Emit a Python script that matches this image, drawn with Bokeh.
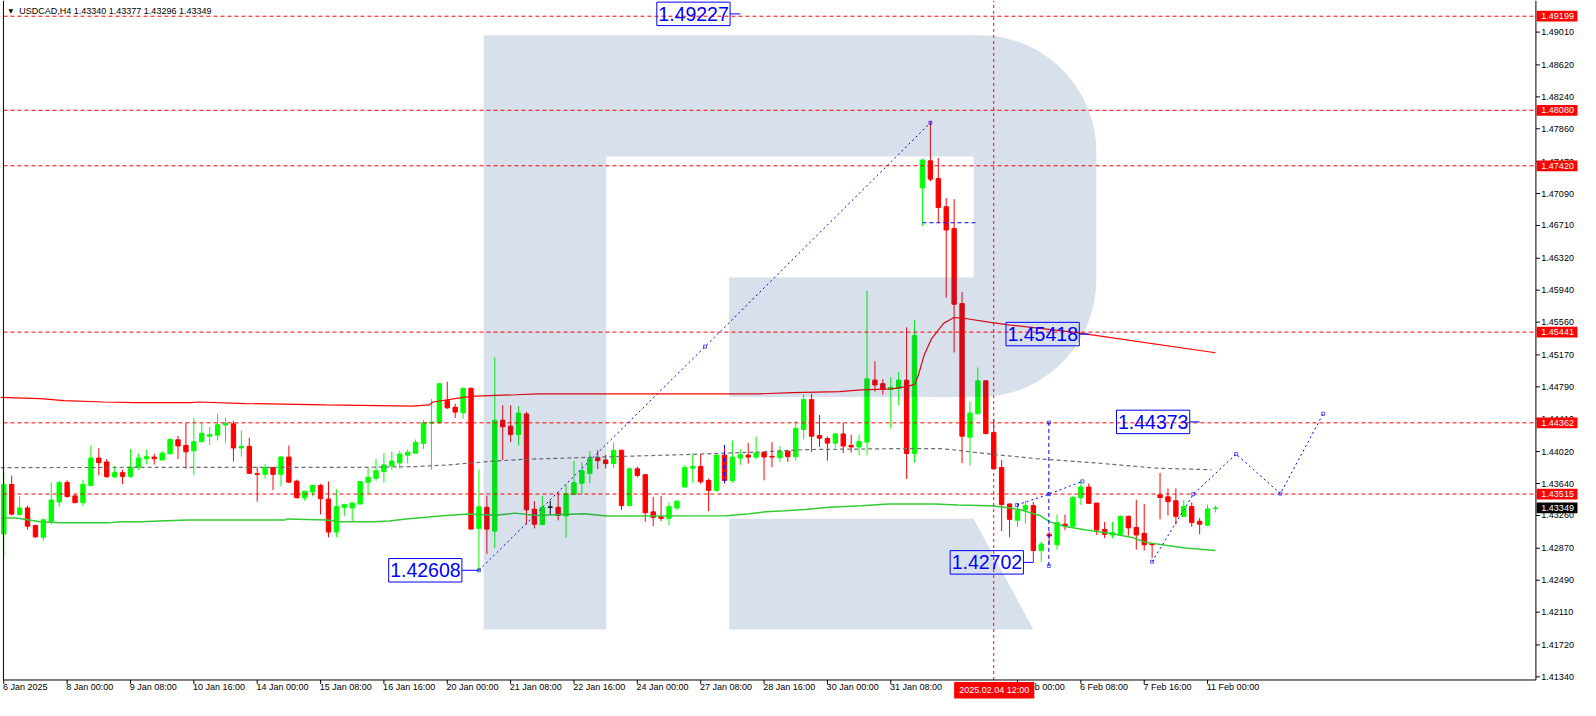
import numpy as np
from bokeh.plotting import figure
from bokeh.models import ColumnDataSource, Range1d
from bokeh.core.properties import value
from bokeh.embed import file_html
from bokeh.resources import INLINE

# ---------------- data ----------------
symbol_title = "USDCAD,H4  1.43340 1.43377 1.43296 1.43349"

opens = [1.43040, 1.43629, 1.43269, 1.43350, 1.43141, 1.43001, 1.43187, 1.43420, 1.43652, 1.43493,
         1.43412, 1.43618, 1.43943, 1.43897, 1.43722, 1.43769, 1.43726, 1.43835, 1.43935, 1.43955,
         1.43920, 1.43994, 1.44160, 1.44094, 1.44028, 1.44137, 1.44203, 1.44215, 1.44335, 1.44350,
         1.44063, 1.44083, 1.43757, 1.43749, 1.43831, 1.43749, 1.43955, 1.43668, 1.43470, 1.43540,
         1.43618, 1.43455, 1.43063, 1.43358, 1.43350, 1.43397, 1.43656, 1.43703, 1.43784, 1.43850,
         1.43885, 1.43978, 1.44001, 1.44118, 1.44358, 1.44362, 1.44626, 1.44548, 1.44482, 1.44773,
         1.43106, 1.43358, 1.43074, 1.44393, 1.44323, 1.44222, 1.44467, 1.43335, 1.43152, 1.43358,
         1.43358, 1.43254, 1.43509, 1.43644, 1.43761, 1.43947, 1.43920, 1.43877, 1.44036, 1.43377,
         1.43815, 1.43745, 1.43303, 1.43245, 1.43226, 1.43350, 1.43598, 1.43823, 1.43842, 1.43676,
         1.43559, 1.43978, 1.43676, 1.43943, 1.43978, 1.43955, 1.44013, 1.43963, 1.43947, 1.44025,
         1.43959, 1.44284, 1.44638, 1.44211, 1.44176, 1.44121, 1.44230, 1.44094, 1.44075, 1.44133,
         1.44870, 1.44827, 1.44761, 1.44772, 1.44870, 1.43998, 1.47157, 1.47479, 1.47269, 1.46932,
         1.46673, 1.45781, 1.44191, 1.44470, 1.44862, 1.44246, 1.43831, 1.43397, 1.43203, 1.43327,
         1.43377, 1.42842, 1.43036, 1.42912, 1.43156, 1.43133, 1.43474, 1.43598, 1.43408, 1.43094,
         1.43028, 1.43036, 1.43249, 1.43117, 1.43048, 1.42924, 1.43505, 1.43482, 1.43435, 1.43249,
         1.43366, 1.43191, 1.43145, 1.43340]
highs = [1.43776, 1.43734, 1.43489, 1.43377, 1.43150, 1.43222, 1.43652, 1.43668, 1.43680, 1.43517,
         1.43687, 1.44094, 1.44060, 1.43932, 1.43850, 1.43804, 1.44048, 1.43997, 1.44044, 1.43994,
         1.44025, 1.44176, 1.44207, 1.44358, 1.44420, 1.44358, 1.44312, 1.44470, 1.44424, 1.44385,
         1.44269, 1.44184, 1.43838, 1.43873, 1.43838, 1.43966, 1.44094, 1.43687, 1.43555, 1.43622,
         1.43633, 1.43664, 1.43571, 1.43400, 1.43416, 1.43668, 1.43831, 1.43932, 1.44001, 1.44021,
         1.44028, 1.44048, 1.44164, 1.44397, 1.44645, 1.44830, 1.44850, 1.44587, 1.44784, 1.44780,
         1.43804, 1.43493, 1.45141, 1.44571, 1.44571, 1.44560, 1.44493, 1.43431, 1.43493, 1.43435,
         1.43533, 1.43629, 1.43908, 1.43893, 1.44025, 1.44036, 1.43982, 1.44126, 1.44040, 1.43835,
         1.43842, 1.43750, 1.43481, 1.43493, 1.43416, 1.43435, 1.43861, 1.43998, 1.43990, 1.43699,
         1.43980, 1.44094, 1.44153, 1.44048, 1.44121, 1.44199, 1.44015, 1.44133, 1.44083, 1.44030,
         1.44385, 1.44703, 1.44708, 1.44455, 1.44199, 1.44242, 1.44362, 1.44222, 1.44222, 1.45932,
         1.45095, 1.44882, 1.44908, 1.44967, 1.45498, 1.45583, 1.47505, 1.47952, 1.47514, 1.47037,
         1.47022, 1.45917, 1.44618, 1.45021, 1.44866, 1.44405, 1.43920, 1.43400, 1.43404, 1.43435,
         1.43424, 1.42951, 1.43067, 1.43272, 1.43272, 1.43493, 1.43676, 1.43641, 1.43410, 1.43183,
         1.43183, 1.43261, 1.43261, 1.43447, 1.43397, 1.42930, 1.43765, 1.43583, 1.43583, 1.43443,
         1.43416, 1.43230, 1.43389, 1.43377]
lows = [1.42765, 1.43261, 1.43261, 1.43094, 1.42995, 1.42958, 1.43156, 1.43366, 1.43470, 1.43405,
        1.43373, 1.43606, 1.43738, 1.43707, 1.43703, 1.43633, 1.43707, 1.43800, 1.43866, 1.43866,
        1.43912, 1.43990, 1.43932, 1.43815, 1.43738, 1.44133, 1.44098, 1.44153, 1.44129, 1.43901,
        1.43959, 1.43755, 1.43424, 1.43695, 1.43563, 1.43606, 1.43648, 1.43465, 1.43435, 1.43486,
        1.43272, 1.43001, 1.43001, 1.43257, 1.43195, 1.43389, 1.43513, 1.43672, 1.43652, 1.43804,
        1.43819, 1.43877, 1.43998, 1.44052, 1.43804, 1.44355, 1.44529, 1.44420, 1.44412, 1.43095,
        1.42608, 1.42803, 1.42873, 1.43920, 1.44133, 1.44094, 1.43152, 1.43106, 1.43144, 1.43272,
        1.43202, 1.42998, 1.43505, 1.43509, 1.43644, 1.43812, 1.43819, 1.43819, 1.43327, 1.43370,
        1.43714, 1.43184, 1.43133, 1.43195, 1.43144, 1.43327, 1.43598, 1.43649, 1.43637, 1.43312,
        1.43544, 1.43641, 1.43649, 1.43861, 1.43877, 1.43928, 1.43679, 1.43835, 1.43897, 1.43897,
        1.43912, 1.44164, 1.44016, 1.44075, 1.43912, 1.44068, 1.44005, 1.44009, 1.43978, 1.43978,
        1.44734, 1.44696, 1.44296, 1.44571, 1.43695, 1.43889, 1.46703, 1.47234, 1.46738, 1.45851,
        1.45199, 1.43882, 1.43854, 1.44468, 1.44226, 1.43812, 1.43075, 1.43001, 1.43125, 1.43164,
        1.42702, 1.42710, 1.42912, 1.42854, 1.43086, 1.43130, 1.43385, 1.43400, 1.43028, 1.42989,
        1.42989, 1.43028, 1.43020, 1.42854, 1.42842, 1.42757, 1.43214, 1.43261, 1.43152, 1.43245,
        1.43125, 1.43036, 1.43140, 1.43296]
closes = [1.43629, 1.43276, 1.43350, 1.43133, 1.43005, 1.43210, 1.43443, 1.43652, 1.43486, 1.43412,
          1.43629, 1.43943, 1.43889, 1.43722, 1.43769, 1.43726, 1.43835, 1.43943, 1.43959, 1.43935,
          1.44001, 1.44164, 1.44087, 1.44017, 1.44137, 1.44238, 1.44222, 1.44339, 1.44358, 1.44063,
          1.44083, 1.43761, 1.43749, 1.43831, 1.43749, 1.43955, 1.43656, 1.43470, 1.43548, 1.43618,
          1.43459, 1.43063, 1.43366, 1.43389, 1.43408, 1.43664, 1.43714, 1.43792, 1.43862, 1.43908,
          1.43990, 1.44013, 1.44129, 1.44362, 1.44370, 1.44827, 1.44540, 1.44490, 1.44773, 1.43098,
          1.43362, 1.43098, 1.44393, 1.44315, 1.44222, 1.44478, 1.43327, 1.43156, 1.43358, 1.43358,
          1.43261, 1.43521, 1.43649, 1.43792, 1.43943, 1.43912, 1.43877, 1.44036, 1.43377, 1.43815,
          1.43737, 1.43292, 1.43237, 1.43226, 1.43365, 1.43431, 1.43830, 1.43842, 1.43661, 1.43559,
          1.43978, 1.43676, 1.43955, 1.43982, 1.43955, 1.44005, 1.43955, 1.43955, 1.44025, 1.43959,
          1.44296, 1.44638, 1.44203, 1.44179, 1.44121, 1.44230, 1.44086, 1.44075, 1.44141, 1.44885,
          1.44812, 1.44761, 1.44784, 1.44870, 1.43998, 1.45400, 1.47487, 1.47261, 1.46924, 1.46656,
          1.45773, 1.44203, 1.44478, 1.44862, 1.44234, 1.43815, 1.43389, 1.43214, 1.43319, 1.43377,
          1.42842, 1.42920, 1.43016, 1.43176, 1.43133, 1.43474, 1.43598, 1.43404, 1.43086, 1.43036,
          1.43055, 1.43249, 1.43113, 1.43028, 1.42912, 1.42912, 1.43474, 1.43424, 1.43249, 1.43366,
          1.43176, 1.43156, 1.43338, 1.43349]
bar_idx = list(range(len(opens)))
black_doji_bars = [69]

# indicator lines (bar index, price)
red_ma_x = [-0.4, 4.6, 7.6, 12.6, 16.6, 23.6, 24.6, 30.6, 40.6, 51.6, 53.7, 54.2, 58.0, 59.6,
            64.6, 67.5, 95.5, 99.6, 105.5, 108.3, 112.1, 114.0, 115.0, 115.5, 116.2, 117.1,
            117.9, 118.7, 120.0, 121.2, 124.6, 127.1, 135.0, 153.0]
red_ma_y = [1.44664, 1.44649, 1.44626, 1.44610, 1.44603, 1.44603, 1.44610, 1.44591, 1.44575,
            1.44560, 1.44575, 1.44610, 1.44664, 1.44679, 1.44696, 1.44707, 1.44707, 1.44722,
            1.44734, 1.44754, 1.44765, 1.44792, 1.44819, 1.44932, 1.45164, 1.45354, 1.45452,
            1.45548, 1.45614, 1.45606, 1.45556, 1.45525, 1.45440, 1.45196]
green_ma_x = [-0.4, 1.6, 4.6, 7.1, 13.3, 14.6, 17.5, 19.6, 23.3, 35.5, 35.8, 40.8, 42.5, 46.7,
              48.7, 50.8, 53.7, 55.8, 58.7, 62.1, 64.6, 67.1, 73.3, 76.2, 91.2, 94.2, 96.2,
              98.7, 101.2, 104.2, 108.3, 111.7, 117.5, 120.5, 124.6, 127.1, 128.7, 130.8,
              132.1, 134.2, 136.7, 139.6, 142.5, 144.2, 146.7, 149.2, 153.0]
green_ma_y = [1.43230, 1.43230, 1.43184, 1.43172, 1.43172, 1.43184, 1.43184, 1.43195, 1.43207,
              1.43207, 1.43219, 1.43207, 1.43184, 1.43184, 1.43195, 1.43219, 1.43242, 1.43260,
              1.43277, 1.43263, 1.43288, 1.43260, 1.43280, 1.43253, 1.43257, 1.43280, 1.43303,
              1.43315, 1.43330, 1.43358, 1.43377, 1.43396, 1.43396, 1.43385, 1.43377, 1.43350,
              1.43319, 1.43260, 1.43184, 1.43126, 1.43086, 1.43048, 1.42998, 1.42940, 1.42905,
              1.42874, 1.42842]
gray_ma_x = [-0.4, 45.8, 52.1, 56.2, 59.6, 62.1, 65.8, 76.2, 86.7, 95.5, 101.2, 113.7, 118.3,
             120.8, 125.0, 130.5, 138.3, 145.5, 152.5]
gray_ma_y = [1.43830, 1.43833, 1.43842, 1.43862, 1.43889, 1.43908, 1.43928, 1.43958, 1.43986,
             1.44016, 1.44044, 1.44056, 1.44056, 1.44031, 1.43986, 1.43935, 1.43882, 1.43823,
             1.43804]

# horizontal levels and axis info
level_prices = [1.49199, 1.48080, 1.47420, 1.45441, 1.44362, 1.43515]
last_price = 1.43349
price_ticks = [1.49010, 1.48620, 1.48240, 1.47860, 1.47470, 1.47090, 1.46710, 1.46320, 1.45940,
               1.45560, 1.45170, 1.44790, 1.44410, 1.44020, 1.43640, 1.43260, 1.42870, 1.42490,
               1.42110, 1.41720, 1.41340]
time_bars = [0, 8, 16, 24, 32, 40, 48, 56, 64, 72, 80, 88, 96, 104, 112, 128, 136, 144, 152]
time_texts = ["6 Jan 2025", "8 Jan 00:00", "9 Jan 08:00", "10 Jan 16:00", "14 Jan 00:00",
              "15 Jan 08:00", "16 Jan 16:00", "20 Jan 00:00", "21 Jan 08:00", "22 Jan 16:00",
              "24 Jan 00:00", "27 Jan 08:00", "28 Jan 16:00", "30 Jan 00:00", "31 Jan 08:00",
              "5 Feb 00:00", "6 Feb 08:00", "7 Feb 16:00", "11 Feb 00:00"]
crosshair_bar = 125
crosshair_text = "2025.02.04 12:00"

# analyst drawings (blue)
trend_x = [60, 88.55, 117]
trend_y = [1.42608, 1.45269, 1.47932]
path1_x = [127.95, 131.96, 136.2]
path1_y = [1.43385, 1.43513, 1.43666]
path2_x = [145.0, 150.2, 155.6, 161.2, 166.6]
path2_y = [1.42710, 1.43513, 1.43990, 1.43520, 1.44470]
dash_h_x = [116, 123]
dash_h_y = [1.46742, 1.46742]
dash_v_bars = [91, 131.96]
dash_v_low = [1.43647, 1.42660]
dash_v_high = [1.44098, 1.44366]
blue_label_prices = [1.49227, 1.45418, 1.44373, 1.42702, 1.42608]
blue_label_left = [82.46, 126.55, 140.5, 119.5, 48.6]
blue_label_target = [93.0, 137.0, 151.0, 130.0, 60.0]

# ---------------- canvas geometry (bar index / price space) ----------------
FONT = "Liberation Sans"
CX0, CX1 = -0.4125, 199.09     # whole canvas, bar-index units
CY0, CY1 = 1.41059, 1.49386    # whole canvas, price units
XL, XA = -0.04, 193.46         # chart left edge / price-scale line
YB = 1.41303                   # time-scale line
PX = 1 / 8.0                   # one screen pixel in bar units
PY = 0.0001163                 # one screen pixel in price units

p = figure(width=1580, height=700, x_range=Range1d(CX0, CX1), y_range=Range1d(CY0, CY1),
           x_axis_type=None, y_axis_type=None, output_backend="svg",
           toolbar_location=None, min_border=0)
p.background_fill_color = "white"
p.border_fill_color = "white"
p.outline_line_color = None

# ---------------- candles ----------------
o = np.array(opens); c = np.array(closes)
top = np.maximum(o, c)
bot = np.minimum(o, c)
top = np.where(top - bot < 0.00002, bot + 0.00002, top)
colors = ["#00ff00" if cc > oo else "#ff0000" for oo, cc in zip(opens, closes)]
for b in black_doji_bars:
    colors[b] = "#000000"
src = ColumnDataSource(dict(x=bar_idx, h=highs, l=lows, top=top, bot=bot, col=colors))
p.segment(x0="x", y0="l", x1="x", y1="h", line_color="col", line_width=1, source=src)
p.vbar(x="x", width=0.55, top="top", bottom="bot", fill_color="col", line_color="col",
       line_width=1, source=src)

# indicator lines
p.line(red_ma_x, red_ma_y, line_color="#ff0000", line_width=1.2)
p.line(green_ma_x, green_ma_y, line_color="#32cd32", line_width=1.5)
p.line(gray_ma_x, gray_ma_y, line_color="#6e6e6e", line_width=1.2, line_dash="4 3")

# ---------------- watermark "R" (translucent overlay) ----------------
cx, rx = 123.21, 14.75
t1 = np.linspace(np.pi / 2, 0, 16)
t2 = np.linspace(0, -np.pi / 2, 16)
wm_bottom = 1.41905
bowl_x = ([60.59, cx] + list(cx + rx * np.cos(t1)) + list(cx + rx * np.cos(t2)) +
          [cx, 91.59, 91.59, 122.46, 122.46, 76.09, 76.09, 60.59])
bowl_y = ([1.48973, 1.48973] + list(1.47583 + 0.0139 * np.sin(t1)) +
          list(1.46071 + 0.01403 * np.sin(t2)) +
          [1.44668, 1.44668, 1.46091, 1.46091, 1.47530, 1.47530, wm_bottom, wm_bottom])
leg_x = [91.59, 122.46, 130.0, 91.59]
leg_y = [1.43222, 1.43222, wm_bottom, wm_bottom]
p.patches([bowl_x, leg_x], [bowl_y, leg_y], fill_color="#053d82", fill_alpha=0.16,
          line_color=None)

# ---------------- levels and crosshair ----------------
n = len(level_prices)
p.segment(x0=[XL] * n, y0=level_prices, x1=[XA] * n, y1=level_prices,
          line_color="#ff0000", line_dash="4 3", line_width=1)
p.segment(x0=[crosshair_bar], y0=[YB], x1=[crosshair_bar], y1=[CY1],
          line_color="#ff0000", line_dash="3 3", line_width=1)

# ---------------- blue drawings ----------------
p.line(trend_x, trend_y, line_color="#0000ff", line_width=1, line_dash="2 3")
p.line(path1_x, path1_y, line_color="#0000ff", line_width=1, line_dash="2 3")
p.line(path2_x, path2_y, line_color="#0000ff", line_width=1, line_dash="2 3")
p.line(dash_h_x, dash_h_y, line_color="#0000ff", line_width=1, line_dash="4 3")
p.segment(x0=dash_v_bars, y0=dash_v_low, x1=dash_v_bars, y1=dash_v_high,
          line_color="#0000ff", line_width=1, line_dash="4 3")
box_w = 74 * PX
box_h = 24 * PY
conn_x0 = [l + box_w for l in blue_label_left]
p.segment(x0=conn_x0, y0=blue_label_prices, x1=blue_label_target, y1=blue_label_prices,
          line_color="#0000ff", line_width=1)
p.quad(left=blue_label_left, right=conn_x0,
       bottom=[v - box_h / 2 for v in blue_label_prices],
       top=[v + box_h / 2 for v in blue_label_prices],
       fill_color=None, line_color="#0000ff", line_width=1)
p.text(x=[l + 1.5 * PX for l in blue_label_left], y=blue_label_prices,
       text=[f"{v:.5f}" for v in blue_label_prices], text_color="#0000ff",
       text_font=value(FONT), text_font_size=value("19.5px"), text_baseline="middle",
       text_align="left")
# small anchor points of the drawings
anchor_x = trend_x + path1_x + path2_x + [dash_v_bars[1], dash_v_bars[1]]
anchor_y = trend_y + path1_y + path2_y + [dash_v_low[1], dash_v_high[1]]
p.scatter(anchor_x, anchor_y, marker="square", size=3, fill_color=None,
          line_color="#0000ff", line_width=0.8, line_alpha=0.8)

# ---------------- frame and scales ----------------
p.segment(x0=[XL, XA, XL], y0=[YB, YB, YB], x1=[XL, XA, XA], y1=[CY1, CY1, YB],
          line_color="black", line_width=1)

# price scale
nt = len(price_ticks)
p.segment(x0=[XA] * nt, y0=price_ticks, x1=[XA + 4 * PX] * nt, y1=price_ticks,
          line_color="black", line_width=1)
p.text(x=[XA + 5.5 * PX] * nt, y=price_ticks, text=[f"{t:.5f}" for t in price_ticks],
       text_color="black", text_font=value(FONT), text_font_size=value("9px"),
       text_baseline="middle", text_align="left")

# time scale
nb = len(time_bars)
p.segment(x0=time_bars, y0=[YB] * nb, x1=time_bars, y1=[YB - 4 * PY] * nb,
          line_color="black", line_width=1)
p.text(x=[b - 0.1 for b in time_bars], y=[YB - 2 * PY] * nb, text=time_texts,
       text_color="black", text_font=value(FONT), text_font_size=value("9px"),
       text_baseline="top", text_align="left")

# price boxes on the price scale
box_prices = level_prices + [last_price]
box_colors = ["#ff0000"] * len(level_prices) + ["#000000"]
p.quad(left=[XA + 0.7 * PX] * len(box_prices), right=[XA + 42 * PX] * len(box_prices),
       bottom=[v - 5.5 * PY for v in box_prices], top=[v + 5.5 * PY for v in box_prices],
       fill_color=box_colors, line_color=None)
p.text(x=[XA + 5.5 * PX] * len(box_prices), y=box_prices,
       text=[f"{v:.5f}" for v in box_prices], text_color="white",
       text_font=value(FONT), text_font_size=value("9px"),
       text_baseline="middle", text_align="left")

# crosshair time box
p.quad(left=[crosshair_bar - 40 * PX], right=[crosshair_bar + 41 * PX],
       bottom=[YB - 19 * PY], top=[YB - 2 * PY], fill_color="#ff0000", line_color=None)
p.text(x=[crosshair_bar + 0.5 * PX], y=[YB - 10.5 * PY], text=[crosshair_text],
       text_color="white", text_font=value(FONT), text_font_size=value("9px"),
       text_baseline="middle", text_align="center")

# title
p.text(x=[0.6], y=[1.49386 - 10 * PY], text=["\u25BC"], text_color="black",
       text_font=value("DejaVu Sans"), text_font_size=value("6px"), text_baseline="middle")
p.text(x=[1.96], y=[1.49386 - 10.5 * PY], text=[symbol_title], text_color="black",
       text_font=value(FONT), text_font_size=value("9px"), text_baseline="middle")

open("out.html", "w").write(file_html(p, INLINE))
